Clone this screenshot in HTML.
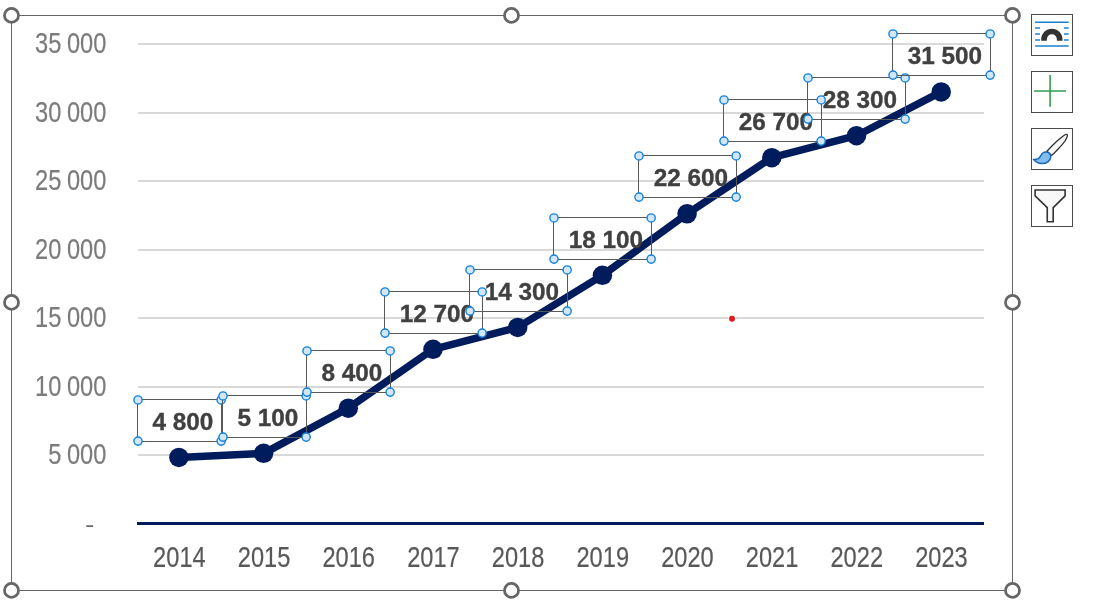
<!DOCTYPE html>
<html lang="en"><head><meta charset="utf-8"><title>Chart</title>
<style>
html,body{margin:0;padding:0;background:#fff;}
body{width:1117px;height:616px;overflow:hidden;font-family:"Liberation Sans",sans-serif;}
svg{display:block}
.ax{font-family:"Liberation Sans",sans-serif;font-size:30.4px;}
.yl{fill:#7c7c7c;stroke:#7c7c7c;stroke-width:0.2px;text-anchor:end;word-spacing:-1.3px}
.xl{fill:#595959;stroke:#595959;stroke-width:0.2px;text-anchor:middle}
.dl{font-family:"Liberation Sans",sans-serif;font-weight:bold;font-size:24.6px;fill:#404040;stroke:#404040;stroke-width:0.35px;text-anchor:middle}
.hd{fill:#fff;stroke:#666;stroke-width:2.8}
.lh{fill:#d1e7f8;stroke:#1480dc;stroke-width:1.4}
.lb{fill:none;stroke:#595959;stroke-width:1}
.btn{fill:#fff;stroke:#4a4a4a;stroke-width:1}
</style></head><body>
<svg width="1117" height="616" viewBox="0 0 1117 616">
<rect width="1117" height="616" fill="#fff"/>
<rect x="11.5" y="15.5" width="1001" height="575" fill="none" stroke="#666" stroke-width="1"/>
<rect x="138" y="43" width="846" height="2" fill="#d9d9d9"/>
<rect x="138" y="112" width="846" height="2" fill="#d9d9d9"/>
<rect x="138" y="180" width="846" height="2" fill="#d9d9d9"/>
<rect x="138" y="249" width="846" height="2" fill="#d9d9d9"/>
<rect x="138" y="317" width="846" height="2" fill="#d9d9d9"/>
<rect x="138" y="386" width="846" height="2" fill="#d9d9d9"/>
<rect x="138" y="454" width="846" height="2" fill="#d9d9d9"/>
<text class="ax yl" transform="translate(106.3,52.75) scale(0.777,1)">35 000</text>
<text class="ax yl" transform="translate(106.3,121.75) scale(0.777,1)">30 000</text>
<text class="ax yl" transform="translate(106.3,189.75) scale(0.777,1)">25 000</text>
<text class="ax yl" transform="translate(106.3,258.75) scale(0.777,1)">20 000</text>
<text class="ax yl" transform="translate(106.3,326.75) scale(0.777,1)">15 000</text>
<text class="ax yl" transform="translate(106.3,395.75) scale(0.777,1)">10 000</text>
<text class="ax yl" transform="translate(106.3,463.75) scale(0.777,1)">5 000</text>
<text class="ax" fill="#6a6a6a" text-anchor="end" transform="translate(94.4,532.05) scale(0.93,0.74)">-</text>
<text class="ax xl" transform="translate(179.40,567.3) scale(0.777,1)">2014</text>
<text class="ax xl" transform="translate(264.07,567.3) scale(0.777,1)">2015</text>
<text class="ax xl" transform="translate(348.74,567.3) scale(0.777,1)">2016</text>
<text class="ax xl" transform="translate(433.41,567.3) scale(0.777,1)">2017</text>
<text class="ax xl" transform="translate(518.08,567.3) scale(0.777,1)">2018</text>
<text class="ax xl" transform="translate(602.75,567.3) scale(0.777,1)">2019</text>
<text class="ax xl" transform="translate(687.42,567.3) scale(0.777,1)">2020</text>
<text class="ax xl" transform="translate(772.09,567.3) scale(0.777,1)">2021</text>
<text class="ax xl" transform="translate(856.76,567.3) scale(0.777,1)">2022</text>
<text class="ax xl" transform="translate(941.43,567.3) scale(0.777,1)">2023</text>
<rect x="137" y="522" width="847" height="3" fill="#001c5c"/>
<circle cx="732" cy="318.8" r="3.6" fill="#fff"/><circle cx="732" cy="318.8" r="3" fill="#e31b1b"/>
<path d="M178.90,457.44 L263.60,453.33 L348.30,408.15 L433.00,349.29 L517.70,327.38 L602.40,275.36 L687.10,213.76 L771.80,157.63 L856.50,135.72 L941.20,91.92" fill="none" stroke="#001c5c" stroke-width="7.5" stroke-linejoin="round" stroke-linecap="round"/>
<circle cx="178.90" cy="457.44" r="9.75" fill="#001c5c"/>
<circle cx="263.60" cy="453.33" r="9.75" fill="#001c5c"/>
<circle cx="348.30" cy="408.15" r="9.75" fill="#001c5c"/>
<circle cx="433.00" cy="349.29" r="9.75" fill="#001c5c"/>
<circle cx="517.70" cy="327.38" r="9.75" fill="#001c5c"/>
<circle cx="602.40" cy="275.36" r="9.75" fill="#001c5c"/>
<circle cx="687.10" cy="213.76" r="9.75" fill="#001c5c"/>
<circle cx="771.80" cy="157.63" r="9.75" fill="#001c5c"/>
<circle cx="856.50" cy="135.72" r="9.75" fill="#001c5c"/>
<circle cx="941.20" cy="91.92" r="9.75" fill="#001c5c"/>
<text class="dl" transform="translate(182.90,429.70) scale(0.99,1)">4 800</text>
<rect class="lb" x="137.5" y="399.5" width="84" height="42"/>
<circle class="lh" cx="138.00" cy="399.95" r="4.1"/>
<circle class="lh" cx="221.15" cy="399.95" r="4.1"/>
<circle class="lh" cx="138.00" cy="441.10" r="4.1"/>
<circle class="lh" cx="221.15" cy="441.10" r="4.1"/>
<text class="dl" transform="translate(267.90,425.70) scale(0.99,1)">5 100</text>
<rect class="lb" x="222.5" y="395.5" width="84" height="42"/>
<circle class="lh" cx="223.00" cy="395.95" r="4.1"/>
<circle class="lh" cx="306.15" cy="395.95" r="4.1"/>
<circle class="lh" cx="223.00" cy="437.10" r="4.1"/>
<circle class="lh" cx="306.15" cy="437.10" r="4.1"/>
<text class="dl" transform="translate(351.90,380.70) scale(0.99,1)">8 400</text>
<rect class="lb" x="306.5" y="350.5" width="84" height="42"/>
<circle class="lh" cx="307.00" cy="350.95" r="4.1"/>
<circle class="lh" cx="390.15" cy="350.95" r="4.1"/>
<circle class="lh" cx="307.00" cy="392.10" r="4.1"/>
<circle class="lh" cx="390.15" cy="392.10" r="4.1"/>
<text class="dl" transform="translate(436.90,321.70) scale(0.99,1)">12 700</text>
<rect class="lb" x="384.5" y="291.5" width="98" height="42"/>
<circle class="lh" cx="385.00" cy="291.95" r="4.1"/>
<circle class="lh" cx="482.15" cy="291.95" r="4.1"/>
<circle class="lh" cx="385.00" cy="333.10" r="4.1"/>
<circle class="lh" cx="482.15" cy="333.10" r="4.1"/>
<text class="dl" transform="translate(521.90,299.70) scale(0.99,1)">14 300</text>
<rect class="lb" x="469.5" y="269.5" width="98" height="42"/>
<circle class="lh" cx="470.00" cy="269.95" r="4.1"/>
<circle class="lh" cx="567.15" cy="269.95" r="4.1"/>
<circle class="lh" cx="470.00" cy="311.10" r="4.1"/>
<circle class="lh" cx="567.15" cy="311.10" r="4.1"/>
<text class="dl" transform="translate(605.90,247.70) scale(0.99,1)">18 100</text>
<rect class="lb" x="553.5" y="217.5" width="98" height="42"/>
<circle class="lh" cx="554.00" cy="217.95" r="4.1"/>
<circle class="lh" cx="651.15" cy="217.95" r="4.1"/>
<circle class="lh" cx="554.00" cy="259.10" r="4.1"/>
<circle class="lh" cx="651.15" cy="259.10" r="4.1"/>
<text class="dl" transform="translate(690.90,185.70) scale(0.99,1)">22 600</text>
<rect class="lb" x="638.5" y="155.5" width="98" height="42"/>
<circle class="lh" cx="639.00" cy="155.95" r="4.1"/>
<circle class="lh" cx="736.15" cy="155.95" r="4.1"/>
<circle class="lh" cx="639.00" cy="197.10" r="4.1"/>
<circle class="lh" cx="736.15" cy="197.10" r="4.1"/>
<text class="dl" transform="translate(775.90,129.70) scale(0.99,1)">26 700</text>
<rect class="lb" x="723.5" y="99.5" width="98" height="42"/>
<circle class="lh" cx="724.00" cy="99.95" r="4.1"/>
<circle class="lh" cx="821.15" cy="99.95" r="4.1"/>
<circle class="lh" cx="724.00" cy="141.10" r="4.1"/>
<circle class="lh" cx="821.15" cy="141.10" r="4.1"/>
<text class="dl" transform="translate(859.90,107.70) scale(0.99,1)">28 300</text>
<rect class="lb" x="807.5" y="77.5" width="98" height="42"/>
<circle class="lh" cx="808.00" cy="77.95" r="4.1"/>
<circle class="lh" cx="905.15" cy="77.95" r="4.1"/>
<circle class="lh" cx="808.00" cy="119.10" r="4.1"/>
<circle class="lh" cx="905.15" cy="119.10" r="4.1"/>
<text class="dl" transform="translate(944.90,63.70) scale(0.99,1)">31 500</text>
<rect class="lb" x="892.5" y="33.5" width="98" height="42"/>
<circle class="lh" cx="893.00" cy="33.95" r="4.1"/>
<circle class="lh" cx="990.15" cy="33.95" r="4.1"/>
<circle class="lh" cx="893.00" cy="75.10" r="4.1"/>
<circle class="lh" cx="990.15" cy="75.10" r="4.1"/>
<circle class="hd" cx="11.5" cy="15.4" r="7"/>
<circle class="hd" cx="511.5" cy="15.4" r="7"/>
<circle class="hd" cx="1012.5" cy="15.4" r="7"/>
<circle class="hd" cx="11.5" cy="302.4" r="7"/>
<circle class="hd" cx="1012.5" cy="302.4" r="7"/>
<circle class="hd" cx="11.5" cy="590.4" r="7"/>
<circle class="hd" cx="511.5" cy="590.4" r="7"/>
<circle class="hd" cx="1012.5" cy="590.4" r="7"/>
<rect class="btn" x="1031.5" y="14.5" width="41" height="41"/>
<rect class="btn" x="1031.5" y="71.5" width="41" height="41"/>
<rect class="btn" x="1031.5" y="128.5" width="41" height="41"/>
<rect class="btn" x="1031.5" y="185.5" width="41" height="41"/>
<path d="M1035.1 22.2H1068.7M1035.1 45.9H1068.7M1035.1 28H1040M1035.1 34.1H1040M1035.1 40.1H1040M1064 28H1068.7M1064 34.1H1068.7M1064 40.1H1068.7" stroke="#1a80d0" stroke-width="1.5" fill="none"/>
<path d="M1041.2 40.8V39.4A10.65 10.65 0 0 1 1062.5 39.4V40.8H1056.9V39.4A5.05 5.05 0 0 0 1046.8 39.4V40.8Z" fill="#333"/>
<path d="M1050.1 75.1V106.7M1034.1 91H1066" stroke="#2e9f50" stroke-width="1.6" fill="none"/>
<path d="M1046.95 151.2C1049 149 1050.5 147.4 1052.44 145.5C1054.3 143.7 1056 142 1057.92 140.23C1059.5 138.8 1061 137.6 1062.57 136.43C1063.6 135.7 1064.6 135 1065.52 134.53C1066 134.3 1066.4 134.25 1066.78 134.32C1067.3 134.5 1067.5 134.9 1067.42 135.38C1067.35 136 1067.2 136.5 1067 137.06C1066.5 138.4 1065.9 139.6 1065.1 140.86C1064.1 142.3 1063 143.6 1061.72 145.08C1060.5 146.5 1059.3 147.9 1057.92 149.3C1056.8 150.5 1055.7 151.6 1054.55 152.68C1053.6 153.6 1052.6 154.5 1051.6 155.42Z" fill="#f8f8f8" stroke="#333" stroke-width="1.3" stroke-linejoin="round"/>
<path d="M1033.4 159.4C1035.4 159.6 1036.9 159.4 1038.2 158.7C1039.6 157.9 1040.4 156.6 1041 155.4C1041.7 154 1042.4 153 1043.4 152.6C1044.2 152.1 1045 151.9 1045.9 152C1047.4 152.1 1048.6 152.6 1049.5 153.4C1050.5 154.4 1050.9 155.6 1050.7 157.1C1050.5 159 1049.6 160.6 1047.9 161.9C1046.3 163.1 1044.4 163.6 1042.2 163.6C1040 163.6 1038.2 163.1 1036.5 161.9C1035.2 161.2 1034.2 160.4 1033.4 159.4Z" fill="#82bcec" stroke="#1767bd" stroke-width="1.5" stroke-linejoin="round"/>
<path d="M1035.1 190H1065.1V195.8L1053.2 207.6V221.8H1047.25V207.6L1035.1 195.8Z" fill="#f8f8f8" stroke="#333" stroke-width="1.6" stroke-linejoin="miter"/>
</svg>
</body></html>
